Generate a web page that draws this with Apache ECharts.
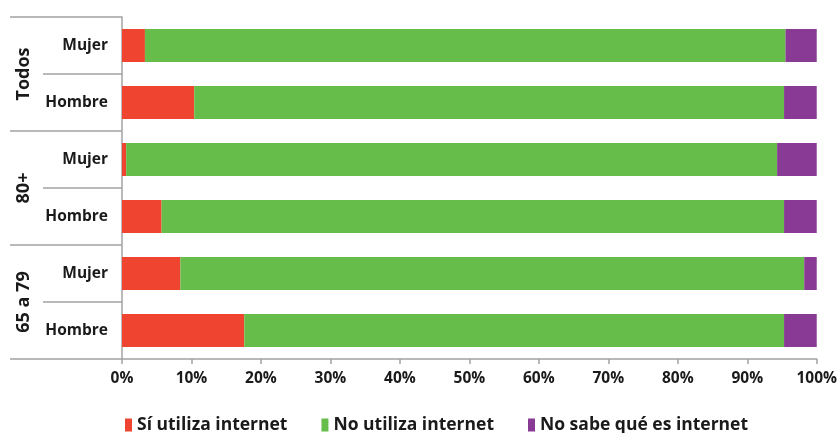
<!DOCTYPE html>
<html>
<head>
<meta charset="utf-8">
<script src="https://cdn.jsdelivr.net/npm/echarts@6/dist/echarts.min.js"></script>
<style>
  html, body { margin: 0; padding: 0; background: #fff; }
  #chart { width: 840px; height: 433px; }
</style>
</head>
<body>
<div id="chart"></div>
<script>
// rows from bottom to top
const categories = ['Hombre', 'Mujer', 'Hombre', 'Mujer', 'Hombre', 'Mujer']
const groups = ['65 a 79', '80+', 'Todos']
const siUtiliza = [17.6, 8.4, 5.7, 0.6, 10.4, 3.3]
const noUtiliza = [77.7, 89.8, 89.6, 93.7, 84.9, 92.2]
const noSabe = [4.7, 1.8, 4.7, 5.7, 4.7, 4.5]
const xTicks = [0, 10, 20, 30, 40, 50, 60, 70, 80, 90, 100]

const font = "'Open Sans', 'DejaVu Sans', sans-serif"
const lineColor = '#a3a3a3'

const chart = echarts.init(document.getElementById('chart'))

const option = {
  animation: false,
  textStyle: { fontFamily: font },
  grid: { left: 122, right: 20, top: 17, bottom: 74 },
  legend: {
    left: 120,
    top: 411,
    icon: 'rect',
    itemWidth: 7,
    itemHeight: 13,
    itemGap: 34,
    textStyle: { fontFamily: font, fontSize: 17.5, fontWeight: 'bold', color: '#1a1a1a' },
    data: ['Sí utiliza internet', 'No utiliza internet', 'No sabe qué es internet']
  },
  xAxis: {
    type: 'value',
    min: 0,
    max: 100,
    interval: 10,
    axisLine: { show: true, lineStyle: { color: lineColor, width: 1.5 } },
    axisTick: { show: true, length: 5, lineStyle: { color: lineColor, width: 1.5 } },
    splitLine: { show: false },
    axisLabel: {
      margin: 12,
      fontFamily: font,
      fontSize: 15.5,
      fontWeight: 'bold',
      color: '#1a1a1a',
      formatter: v => (xTicks.includes(v) ? v + '%' : '')
    }
  },
  yAxis: [
    {
      type: 'category',
      data: categories,
      position: 'left',
      axisLine: { show: true, lineStyle: { color: lineColor, width: 1.5 } },
      axisTick: { show: true, length: 79, lineStyle: { color: lineColor, width: 1.5 } },
      axisLabel: { margin: 14, fontFamily: font, fontSize: 15.5, fontWeight: 'bold', color: '#1a1a1a' }
    },
    {
      type: 'category',
      data: groups,
      position: 'left',
      axisLine: { show: false },
      axisTick: { show: true, length: 112, lineStyle: { color: lineColor, width: 1.5 } },
      axisLabel: { margin: 89, rotate: 90, fontFamily: font, fontSize: 18, fontWeight: 'bold', color: '#1a1a1a' }
    }
  ],
  series: [
    {
      name: 'Sí utiliza internet',
      type: 'bar',
      stack: 'total',
      barCategoryGap: '42%',
      itemStyle: { color: '#ef4430' },
      data: siUtiliza
    },
    {
      name: 'No utiliza internet',
      type: 'bar',
      stack: 'total',
      itemStyle: { color: '#67bd4a' },
      data: noUtiliza
    },
    {
      name: 'No sabe qué es internet',
      type: 'bar',
      stack: 'total',
      itemStyle: { color: '#883a94' },
      data: noSabe
    }
  ]
}

chart.setOption(option)
</script>
</body>
</html>
